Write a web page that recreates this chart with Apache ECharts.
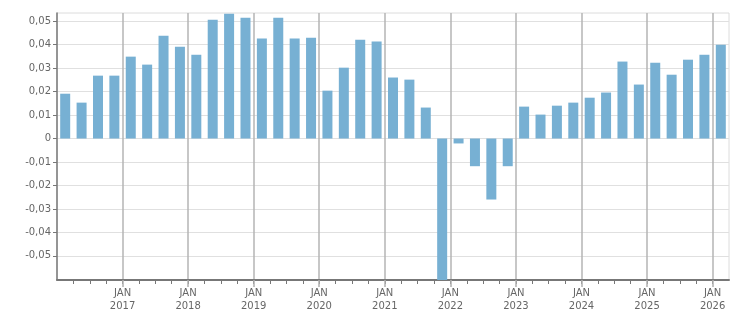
<!DOCTYPE html>
<html>
<head>
<meta charset="utf-8">
<script src="https://cdn.jsdelivr.net/npm/echarts@6/dist/echarts.min.js"></script>
<style>
  html, body { margin: 0; padding: 0; background: #fff; }
  #chart { width: 751px; height: 313px; }
</style>
</head>
<body>
<div id="chart"></div>
<script>
// quarters shown as bars, one per quarter
const quarters = [
  '2016-Q1', '2016-Q2', '2016-Q3', '2016-Q4',
  '2017-Q1', '2017-Q2', '2017-Q3', '2017-Q4',
  '2018-Q1', '2018-Q2', '2018-Q3', '2018-Q4',
  '2019-Q1', '2019-Q2', '2019-Q3', '2019-Q4',
  '2020-Q1', '2020-Q2', '2020-Q3', '2020-Q4',
  '2021-Q1', '2021-Q2', '2021-Q3', '2021-Q4',
  '2022-Q1', '2022-Q2', '2022-Q3', '2022-Q4',
  '2023-Q1', '2023-Q2', '2023-Q3', '2023-Q4',
  '2024-Q1', '2024-Q2', '2024-Q3', '2024-Q4',
  '2025-Q1', '2025-Q2', '2025-Q3', '2025-Q4',
  '2026-Q1'
];

const values = [
  0.0191, 0.0153, 0.0268, 0.0268,
  0.0349, 0.0315, 0.0438, 0.0391,
  0.0357, 0.0506, 0.0532, 0.0515,
  0.0426, 0.0515, 0.0426, 0.0430,
  0.0204, 0.0302, 0.0421, 0.0413,
  0.0260, 0.0251, 0.0132, -0.0620,
  -0.0021, -0.0118, -0.0260, -0.0118,
  0.0136, 0.0102, 0.0140, 0.0153,
  0.0174, 0.0196, 0.0328, 0.0230,
  0.0323, 0.0272, 0.0336, 0.0357,
  0.0400
];

const yTicks = [-0.05, -0.04, -0.03, -0.02, -0.01, 0, 0.01, 0.02, 0.03, 0.04, 0.05];
const yearTicks = [2017, 2018, 2019, 2020, 2021, 2022, 2023, 2024, 2025, 2026];

// quarter label -> position in fractional years (middle of the quarter)
function quarterPos(label) {
  const [y, q] = label.split('-Q');
  return Number(y) + (Number(q) - 0.5) / 4;
}

function fmtY(v) {
  if (Math.abs(v) < 1e-9) return '0';
  return v.toFixed(2).replace('.', ',');
}

const labelFont = {
  color: '#666',
  fontFamily: 'DejaVu Sans',
  fontSize: 10
};

const option = {
  animation: false,
  backgroundColor: '#fff',
  grid: {
    left: 57,
    right: 22,
    top: 13,
    bottom: 32,
    show: true,
    borderColor: '#dcdcdc',
    borderWidth: 1
  },
  xAxis: [
    {
      // quarterly ticks + year labels
      type: 'value',
      min: 2016,
      max: 2026.25,
      interval: 0.25,
      axisLine: {show: true, onZero: false, lineStyle: {color: '#777', width: 2}},
      axisTick: {show: true, length: 4, lineStyle: {color: '#777'}},
      axisLabel: {
        ...labelFont,
        lineHeight: 13,
        margin: 7,
        showMinLabel: false,
        showMaxLabel: false,
        formatter: v => (Number.isInteger(v) && v > 2016) ? 'JAN\n' + v : ''
      },
      splitLine: {show: false}
    },
    {
      // yearly grid lines
      type: 'value',
      position: 'bottom',
      min: 2016,
      max: 2026.25,
      interval: 1,
      axisLine: {show: false, onZero: false},
      axisTick: {show: true, length: 7, customValues: yearTicks, lineStyle: {color: '#b0b0b0', width: 1.5}},
      axisLabel: {show: false},
      splitLine: {show: true, showMinLine: true, showMaxLine: true, lineStyle: {color: '#b4b4b4', width: 1.5}}
    }
  ],
  yAxis: {
    type: 'value',
    min: -0.0603,
    max: 0.0535,
    axisLine: {show: true, onZero: false, lineStyle: {color: '#777', width: 1.5}},
    axisTick: {show: true, length: 4, customValues: yTicks, lineStyle: {color: '#777'}},
    axisLabel: {
      ...labelFont,
      margin: 6,
      customValues: yTicks,
      formatter: fmtY
    },
    splitLine: {show: true, lineStyle: {color: '#e0e0e0', width: 1}}
  },
  series: [
    {
      type: 'bar',
      xAxisIndex: 0,
      barWidth: 10,
      clip: true,
      itemStyle: {color: '#77b0d3'},
      data: quarters.map((q, i) => [quarterPos(q), values[i]])
    }
  ]
};

const chart = echarts.init(document.getElementById('chart'), null, {renderer: 'canvas'});
chart.setOption(option);
</script>
</body>
</html>
